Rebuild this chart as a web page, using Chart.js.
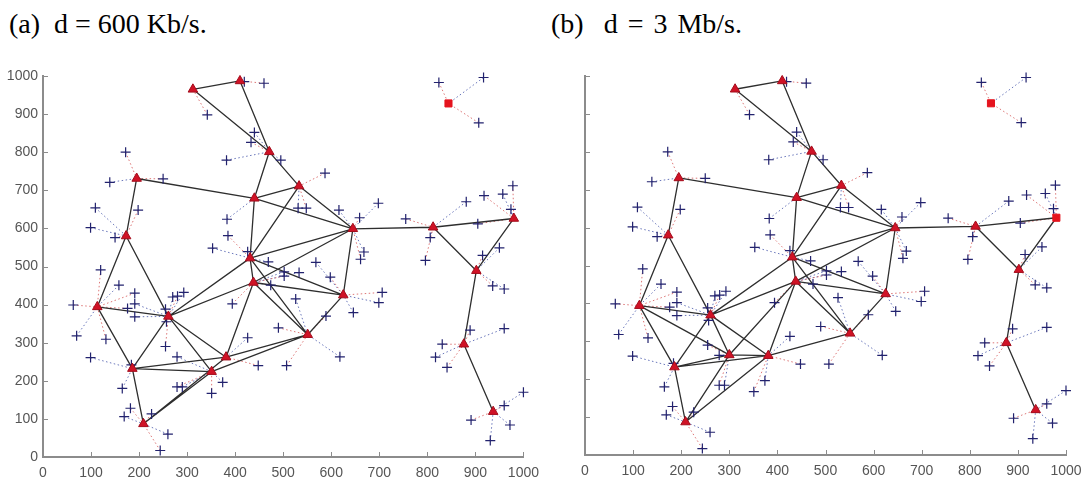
<!DOCTYPE html>
<html>
<head>
<meta charset="utf-8">
<script src="https://cdn.jsdelivr.net/npm/chart.js@4.4.0/dist/chart.umd.min.js"></script>
<style>
  html, body { margin: 0; padding: 0; background: #fff; }
  body { width: 1083px; height: 477px; position: relative; overflow: hidden; }
  .title {
    position: absolute; top: 10px;
    font-family: "Liberation Serif", "Times New Roman", serif;
    font-size: 28px; line-height: 1; white-space: pre; color: #000;
  }
  .panel { position: absolute; top: 60px; height: 417px; }
</style>
</head>
<body>
<div class="title" style="left:9px">(a)  d = 600 Kb/s.</div>
<div class="title" style="left:551px;word-spacing:3px">(b)  d = 3 Mb/s.</div>
<div class="panel" style="left:0;width:540px"><canvas id="chartA"></canvas></div>
<div class="panel" style="left:540px;width:543px"><canvas id="chartB"></canvas></div>
<script>
// Tick values, same on both axes of both panels
const tickValues = [0, 100, 200, 300, 400, 500, 600, 700, 800, 900, 1000];

// Mesh clients (+), same positions in both panels
const clients = [
  [460, 981], [419, 985], [342, 898], [440, 852], [433, 826], [382, 779],
  [172, 800], [139, 721], [250, 730], [109, 654], [198, 648], [99, 602],
  [150, 576], [383, 624], [385, 581], [353, 548], [426, 539], [469, 512],
  [824, 983], [917, 996], [907, 877], [495, 779], [587, 745], [531, 653],
  [548, 653], [616, 648], [659, 628], [698, 666], [755, 625], [806, 576],
  [796, 516], [881, 670], [918, 686], [957, 690], [978, 712], [974, 650],
  [905, 612], [950, 549], [915, 529], [668, 538], [661, 519], [568, 511],
  [120, 491], [158, 451], [191, 430], [191, 402], [176, 390], [191, 368],
  [63, 399], [70, 318], [131, 309], [99, 261], [184, 242], [270, 420],
  [280, 422], [293, 432], [255, 388], [257, 355], [255, 290], [279, 263],
  [279, 184], [290, 184], [394, 402], [426, 313], [448, 240], [374, 196],
  [351, 167], [165, 180], [182, 128], [169, 106], [226, 113], [260, 60],
  [244, 17], [474, 451], [490, 339], [502, 486], [502, 475], [533, 484],
  [598, 472], [526, 415], [589, 370], [646, 379], [706, 432], [699, 405],
  [507, 240], [618, 263], [936, 449], [960, 441], [889, 333], [960, 337],
  [831, 296], [817, 262], [841, 235], [1000, 170], [960, 135], [972, 84],
  [891, 97], [931, 43]
];

// Mesh routers, panel (a)
const routersA = [
  [312, 965], [410, 987], [471, 801], [533, 711], [440, 679], [195, 731],
  [173, 580], [431, 522], [438, 458], [645, 599], [113, 394], [261, 369],
  [625, 425], [551, 321], [186, 232], [381, 262], [351, 224], [209, 87],
  [812, 603], [980, 626], [902, 489], [876, 296], [937, 119], [844, 928]
];

// Mesh routers, panel (b)
const routersB = [
  [312, 965], [410, 987], [471, 801], [533, 711], [440, 679], [195, 731],
  [173, 580], [431, 522], [438, 458], [645, 599], [113, 394], [261, 369],
  [625, 425], [551, 321], [186, 232], [381, 262], [300, 264], [209, 87],
  [812, 603], [980, 626], [902, 489], [876, 296], [937, 119], [844, 928]
];

// Routers drawn as squares (index into the router list)
const squaresA = [23];
const squaresB = [19, 23];

// Router-to-router links (pairs of router indexes)
const linksA = [
  [0, 1], [0, 2], [1, 2], [2, 3], [2, 4], [3, 4], [3, 9], [4, 9], [3, 7],
  [4, 5], [4, 7], [5, 6], [6, 10], [6, 11], [7, 8], [7, 9], [8, 9], [7, 11],
  [8, 11], [7, 12], [8, 12], [7, 13], [8, 13], [9, 12], [12, 13], [13, 15],
  [13, 16], [8, 15], [10, 11], [10, 14], [11, 14], [11, 15], [11, 16],
  [14, 15], [14, 16], [14, 17], [15, 17], [16, 17], [9, 18], [18, 19],
  [18, 20], [19, 20], [20, 21], [21, 22]
];
const linksB = [
  [0, 1], [0, 2], [1, 2], [2, 3], [2, 4], [3, 4], [3, 9], [4, 9], [3, 7],
  [4, 5], [4, 7], [5, 6], [6, 10], [6, 11], [7, 8], [7, 9], [8, 9], [7, 11],
  [8, 11], [7, 12], [8, 12], [7, 13], [8, 13], [9, 12], [12, 13], [13, 15],
  [8, 15], [8, 16], [10, 11], [10, 14], [10, 16], [11, 14], [11, 15],
  [11, 16], [14, 15], [14, 16], [14, 17], [15, 17], [16, 17], [15, 16],
  [9, 18], [18, 19], [18, 20], [19, 20], [20, 21], [21, 22]
];

Chart.defaults.font.family = "'Liberation Sans', Arial, sans-serif";

const pt = (p) => ({ x: p[0], y: p[1] });

// segments joined into one line dataset, broken by null points
function segments(pairs) {
  const out = [];
  pairs.forEach(([a, b]) => {
    out.push(pt(a), pt(b), { x: b[0], y: null });
  });
  return out;
}

function nearestRouter(p, routers) {
  let best = 0;
  let bestD = Infinity;
  routers.forEach((r, i) => {
    const d = (r[0] - p[0]) ** 2 + (r[1] - p[1]) ** 2;
    if (d < bestD) {
      bestD = d;
      best = i;
    }
  });
  return routers[best];
}

// inward tick marks, like the original plot
const innerTicks = {
  id: "innerTicks",
  beforeDatasetsDraw(chart) {
    const { ctx, chartArea, scales } = chart;
    ctx.save();
    ctx.strokeStyle = "#8c8c8c";
    ctx.lineWidth = 1;
    tickValues.forEach((v) => {
      const px = Math.round(scales.x.getPixelForValue(v)) + 0.5;
      ctx.beginPath();
      ctx.moveTo(px, chartArea.bottom);
      ctx.lineTo(px, chartArea.bottom - 5);
      ctx.stroke();
      const py = Math.round(scales.y.getPixelForValue(v)) + 0.5;
      ctx.beginPath();
      ctx.moveTo(chartArea.left, py);
      ctx.lineTo(chartArea.left + 5, py);
      ctx.stroke();
    });
    ctx.restore();
  },
};

function makeChart(id, routers, squares, links, opt) {
  const tri = routers.filter((r, i) => !squares.includes(i)).map(pt);
  const sq = squares.map((i) => pt(routers[i]));
  const linkPairs = links.map(([a, b]) => [routers[a], routers[b]]);
  const redPairs = [];
  const bluePairs = [];
  clients.forEach((c, i) => {
    const pair = [c, nearestRouter(c, routers)];
    if (i % 2 === 0) redPairs.push(pair);
    else bluePairs.push(pair);
  });

  const assoc = {
    type: "line",
    pointRadius: 0,
    borderWidth: 1,
    borderDash: [1.5, 2.5],
    fill: false,
    spanGaps: false,
    clip: false,
    order: 3,
  };

  new Chart(document.getElementById(id), {
    type: "scatter",
    data: {
      datasets: [
        {
          label: "square routers",
          data: sq,
          pointStyle: "rect",
          pointRadius: 5,
          backgroundColor: "#e5141e",
          borderColor: "#e5141e",
          borderWidth: 1,
          clip: false,
          order: 0,
        },
        {
          label: "routers",
          data: tri,
          pointStyle: "triangle",
          pointRadius: 5.5,
          backgroundColor: "#d01226",
          borderColor: "#a30c1b",
          borderWidth: 1,
          clip: false,
          order: 0,
        },
        {
          label: "clients",
          data: clients.map(pt),
          pointStyle: "cross",
          pointRadius: 5,
          borderColor: "#22226e",
          borderWidth: 1.2,
          clip: false,
          order: 1,
        },
        {
          label: "links",
          type: "line",
          data: segments(linkPairs),
          pointRadius: 0,
          borderColor: "#2e2e2e",
          borderWidth: 1.3,
          fill: false,
          spanGaps: false,
          clip: false,
          order: 2,
        },
        Object.assign({ label: "assoc red", data: segments(redPairs), borderColor: "rgba(215,95,95,0.85)" }, assoc),
        Object.assign({ label: "assoc blue", data: segments(bluePairs), borderColor: "rgba(80,95,175,0.85)" }, assoc),
      ],
    },
    options: {
      responsive: true,
      maintainAspectRatio: false,
      animation: false,
      events: [],
      layout: { padding: { top: 16, right: opt.padRight, bottom: 0, left: 0 } },
      plugins: { legend: { display: false }, tooltip: { enabled: false } },
      scales: {
        x: {
          type: "linear",
          min: 0,
          max: 1000,
          afterBuildTicks: (s) => { s.ticks = tickValues.map((v) => ({ value: v })); },
          afterFit: (s) => { s.height = opt.xHeight; },
          grid: { display: false, drawTicks: true, tickLength: 7 },
          border: { color: "#8c8c8c", width: 2 },
          ticks: {
            color: "#555", font: { size: 14 }, padding: 1, maxRotation: 0, autoSkip: false,
            callback: (v) => String(v),
          },
        },
        y: {
          type: "linear",
          min: 0,
          max: 1000,
          afterBuildTicks: (s) => { s.ticks = tickValues.map((v) => ({ value: v })); },
          afterFit: (s) => { s.width = opt.yWidth; },
          grid: { display: false, drawTicks: false },
          border: { color: "#8c8c8c", width: 2 },
          ticks: {
            display: opt.yLabels, color: "#555", font: { size: 14 }, padding: 5, autoSkip: false,
            callback: (v) => String(v),
          },
        },
      },
    },
    plugins: [innerTicks],
  });
}

makeChart("chartA", routersA, squaresA, linksA, { padRight: 15, xHeight: 20, yWidth: 43, yLabels: true });
makeChart("chartB", routersB, squaresB, linksB, { padRight: 17, xHeight: 22, yWidth: 45, yLabels: false });
</script>
</body>
</html>
